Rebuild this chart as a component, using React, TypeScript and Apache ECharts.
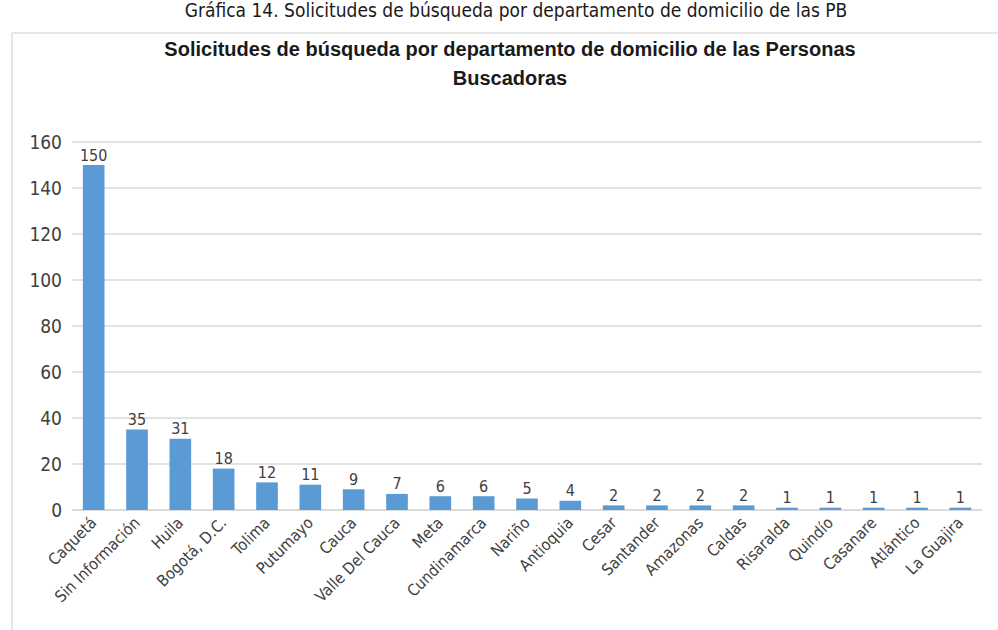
import React, { useEffect, useRef } from "react";
import * as echarts from "echarts";

const categories = [
  "Caquetá", "Sin Información", "Huila", "Bogotá, D.C.", "Tolima", "Putumayo", "Cauca",
  "Valle Del Cauca", "Meta", "Cundinamarca", "Nariño", "Antioquia", "Cesar", "Santander",
  "Amazonas", "Caldas", "Risaralda", "Quindío", "Casanare", "Atlántico", "La Guajira",
];
const values = [150, 35, 31, 18, 12, 11, 9, 7, 6, 6, 5, 4, 2, 2, 2, 2, 1, 1, 1, 1, 1];

const outerTitle = "Gráfica 14. Solicitudes de búsqueda por departamento de domicilio de las PB";
const chartTitle = "Solicitudes de búsqueda por departamento de domicilio de las Personas\nBuscadoras";

const NARROW = "'DejaVu Sans Condensed', 'Liberation Sans Narrow', 'Arial Narrow', sans-serif";

export default function App() {
  const ref = useRef<HTMLDivElement>(null);
  useEffect(() => {
    const chart = echarts.init(ref.current!, null, { renderer: "svg" });
    chart.setOption({
      animation: false,
      backgroundColor: "#ffffff",
      title: [
        {
          text: outerTitle,
          left: 516,
          textAlign: "center",
          top: 0,
          padding: 0,
          textStyle: { fontFamily: NARROW, fontWeight: "normal", fontSize: 19, color: "#1a1a1a" },
        },
        {
          text: chartTitle,
          left: 510,
          textAlign: "center",
          top: 34,
          padding: 0,
          textStyle: {
            fontFamily: "'Liberation Sans', Arial, sans-serif",
            fontWeight: "bold",
            fontSize: 20,
            lineHeight: 29,
            color: "#1a1a1a",
            align: "center",
          },
        },
      ],
      graphic: [
        { type: "line", shape: { x1: 12, y1: 33, x2: 998, y2: 33 }, style: { stroke: "#e6e6e6", lineWidth: 2 } },
        { type: "line", shape: { x1: 12, y1: 33, x2: 12, y2: 630 }, style: { stroke: "#e6e6e6", lineWidth: 2 } },
      ],
      grid: { left: 72, right: 16, top: 142, bottom: 120, containLabel: false },
      xAxis: {
        type: "category",
        data: categories,
        axisLine: { lineStyle: { color: "#d9d9d9", width: 1.5 } },
        axisTick: { show: false },
        axisLabel: {
          rotate: 45,
          interval: 0,
          margin: 10,
          fontFamily: NARROW,
          fontSize: 16,
          color: "#404040",
        },
      },
      yAxis: {
        type: "value",
        min: 0,
        max: 160,
        interval: 20,
        axisLine: { show: false },
        axisTick: { show: false },
        splitLine: { lineStyle: { color: "#d9d9d9", width: 1.5 } },
        axisLabel: { fontFamily: NARROW, fontSize: 19, color: "#404040", margin: 10 },
      },
      series: [
        {
          type: "bar",
          data: values,
          barWidth: "50%",
          itemStyle: { color: "#5B9BD5" },
          label: {
            show: true,
            position: "top",
            distance: 2,
            fontFamily: NARROW,
            fontSize: 16,
            color: "#404040",
          },
        },
      ],
    });
    return () => chart.dispose();
  }, []);
  return <div ref={ref} style={{ position: "fixed", left: 0, top: 0, width: 998, height: 630 }} />;
}
